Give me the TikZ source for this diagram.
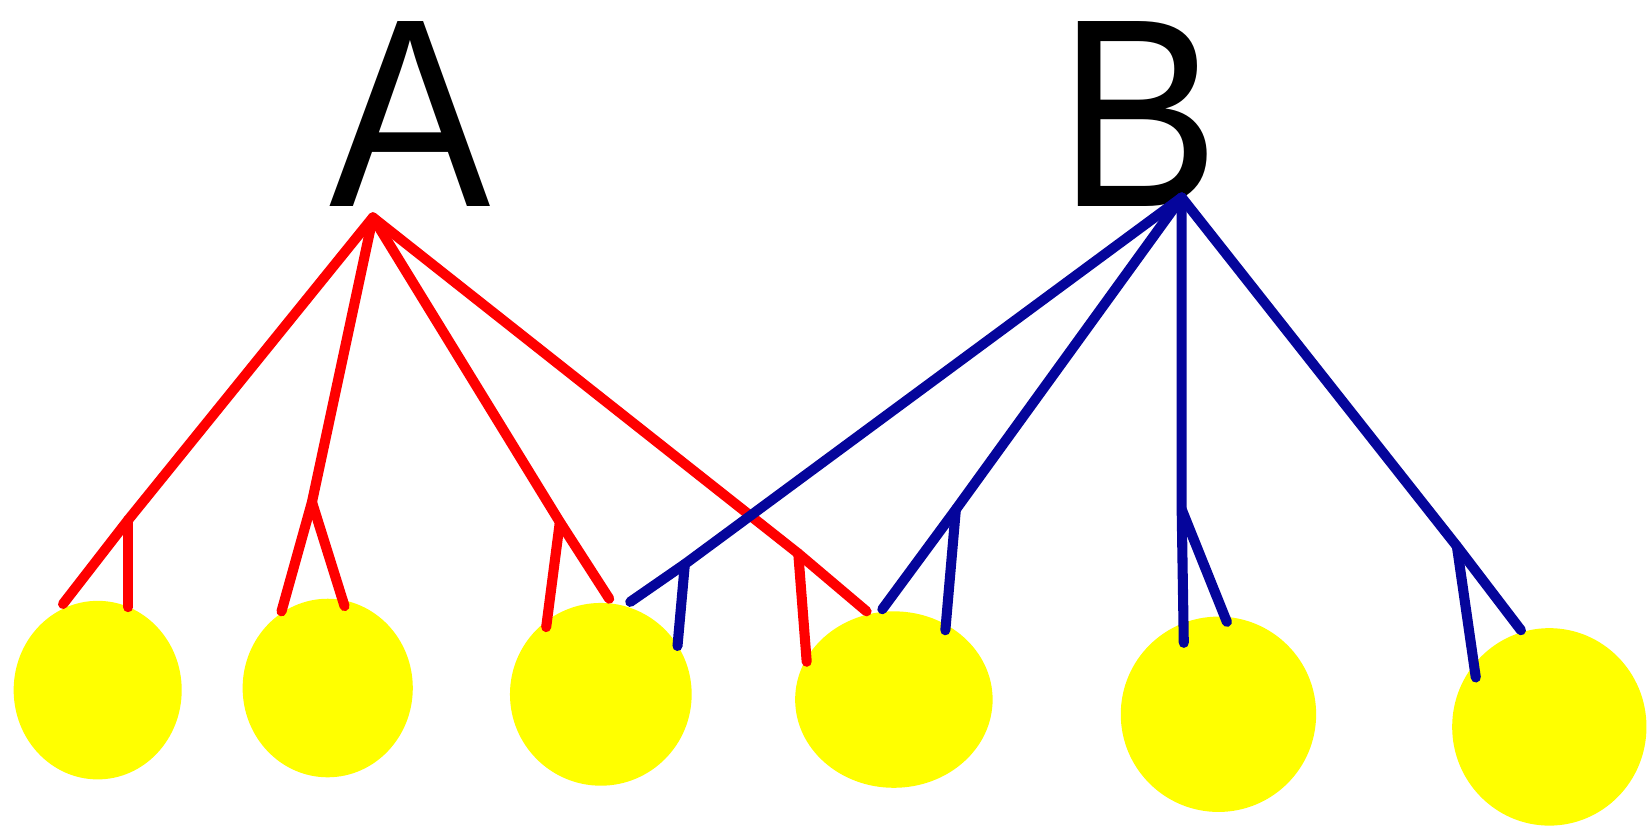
\documentclass[tikz,border=0pt]{standalone}
\usepackage{fontspec}
\setmainfont{Liberation Sans}
\newfontfamily\labelfont[FakeStretch=0.9]{Liberation Sans}
\usetikzlibrary{shapes.geometric}
\definecolor{fruit}{RGB}{255,255,0}
\definecolor{redstem}{RGB}{255,0,0}
\definecolor{bluestem}{RGB}{5,5,155}
\tikzset{
  fruitnode/.style={ellipse, fill=fruit, draw=none, inner sep=0pt},
  letter/.style={inner sep=0pt, anchor=base, text height=92pt, text depth=0pt,
    font=\labelfont\fontsize{128}{136}\selectfont},
  redline/.style={draw=redstem, line width=4.8pt, line cap=round, line join=round},
  blueline/.style={draw=bluestem, line width=4.8pt, line cap=round, line join=round},
}
\begin{document}
\begin{tikzpicture}[x=0.5pt, y=-0.5pt]
\useasboundingbox (0,0) rectangle (1568,789);

% labels
\node[letter] (A) at (390.5,197) {A};
\node[letter] (B) at (1085,197) {B};

% fruits
\node[fruitnode, minimum width=80pt,   minimum height=85pt] (f1) at (93,657) {};
\node[fruitnode, minimum width=81pt,   minimum height=85pt] (f2) at (312,655) {};
\node[fruitnode, minimum width=86.5pt, minimum height=87pt] (f3) at (572,661) {};
\node[fruitnode, minimum width=94pt,   minimum height=84pt] (f4) at (851,666) {};
\node[fruitnode, minimum width=93pt,   minimum height=93pt] (f5) at (1160,680) {};
\node[fruitnode, minimum width=92.5pt, minimum height=94pt] (f6) at (1475,692) {};

% stem tops
\coordinate (a0) at (355,207);
\coordinate (b0) at (1125,188);

% red stems
\coordinate (r1) at (122,495);
\coordinate (r1a) at (60,575);
\coordinate (r1b) at (122,578);
\coordinate (r2) at (297,478);
\coordinate (r2a) at (268,582);
\coordinate (r2b) at (328,577);
\coordinate (r3) at (533,497);
\coordinate (r3a) at (520,597);
\coordinate (r3b) at (580,570);
\coordinate (r4) at (760,527);
\coordinate (r4a) at (768,630);
\coordinate (r4b) at (825,582);

\draw[redline] (a0) -- (r1) -- (r1a);
\draw[redline] (r1) -- (r1b);
\draw[redline] (a0) -- (r2) -- (r2a);
\draw[redline] (r2) -- (r2b);
\draw[redline] (a0) -- (r3) -- (r3b);
\draw[redline] (r3) -- (r3a);
\draw[redline] (a0) -- (r4) -- (r4b);
\draw[redline] (r4) -- (r4a);

% blue stems
\coordinate (b1) at (652,537);
\coordinate (b1a) at (600,573);
\coordinate (b1b) at (645,615);
\coordinate (b2) at (910,485);
\coordinate (b2a) at (840,580);
\coordinate (b2b) at (900,600);
\coordinate (b3) at (1125,485);
\coordinate (b3a) at (1127,612);
\coordinate (b3b) at (1168,592);
\coordinate (b4) at (1387,520);
\coordinate (b4a) at (1448,600);
\coordinate (b4b) at (1405,645);

\draw[blueline] (b0) -- (b1) -- (b1a);
\draw[blueline] (b1) -- (b1b);
\draw[blueline] (b0) -- (b2) -- (b2a);
\draw[blueline] (b2) -- (b2b);
\draw[blueline] (b0) -- (b3) -- (b3a);
\draw[blueline] (b3) -- (b3b);
\draw[blueline] (b0) -- (b4) -- (b4a);
\draw[blueline] (b4) -- (b4b);
\end{tikzpicture}
\end{document}
